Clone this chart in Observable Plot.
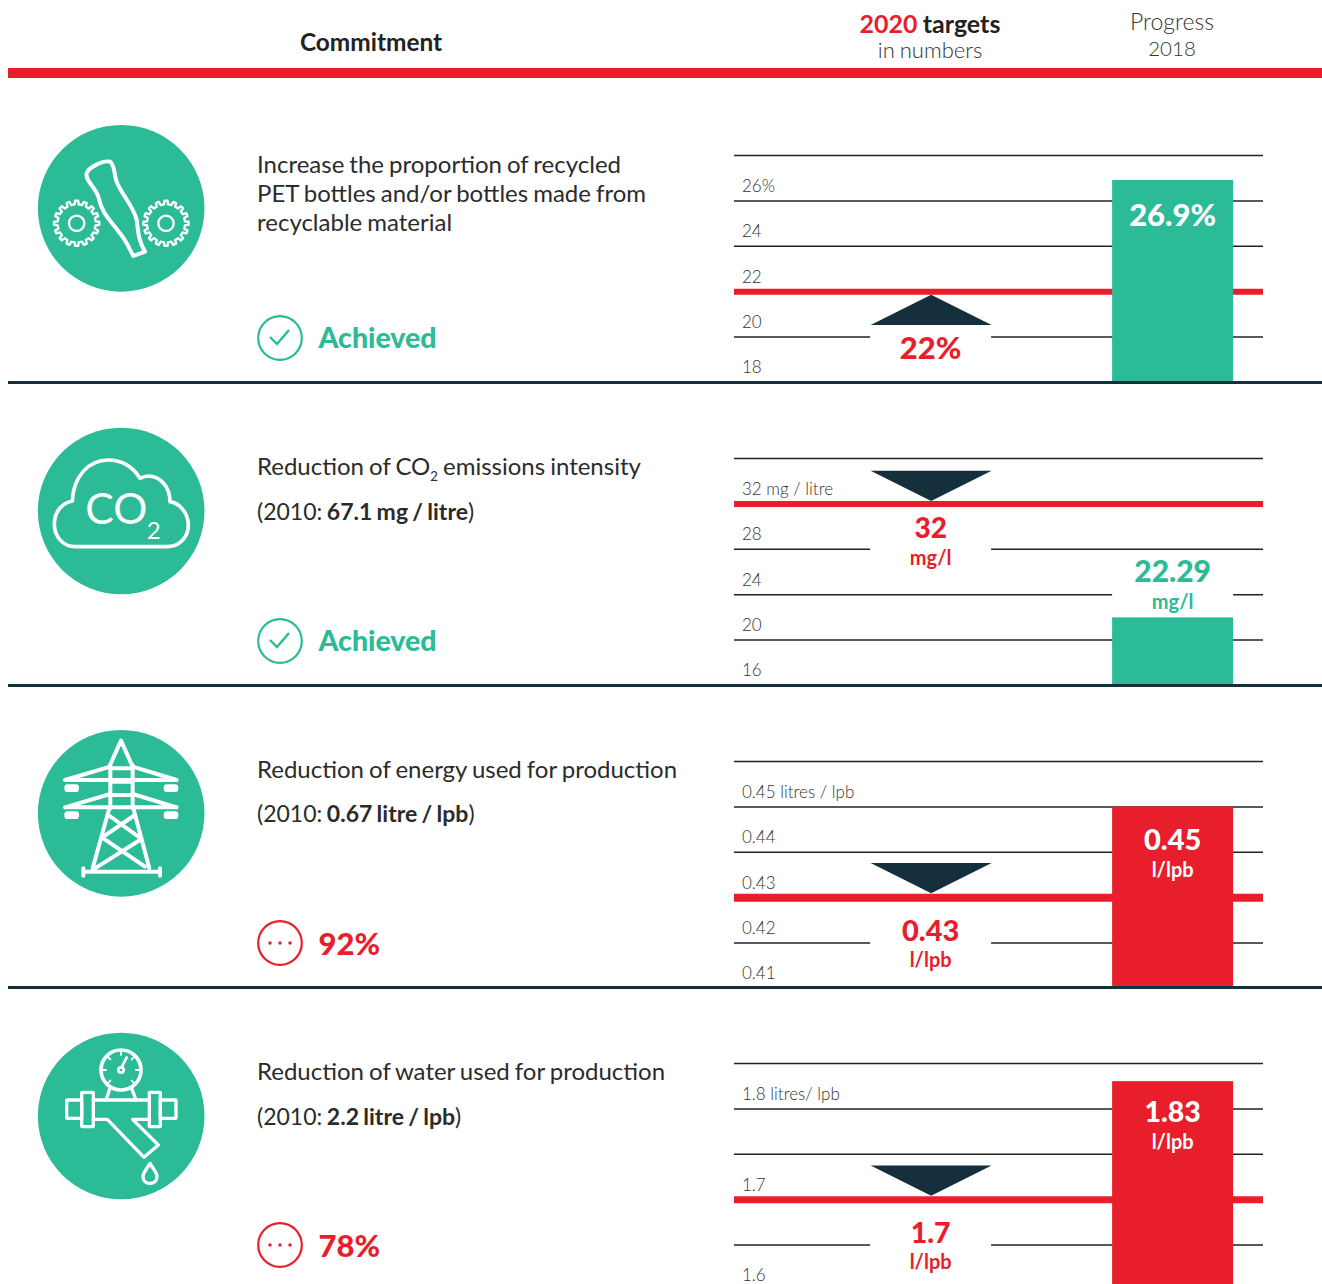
<!DOCTYPE html>
<html><head><meta charset="utf-8">
<script src="https://cdn.jsdelivr.net/npm/d3@7"></script>
<script src="https://cdn.jsdelivr.net/npm/@observablehq/plot@0.6"></script>
<style>
html,body{margin:0;padding:0;background:#fff;overflow:hidden}
#page{position:relative;width:1322px;height:1284px;overflow:hidden;font-family:Lato,sans-serif;color:#2b2b2b}
.t{position:absolute;white-space:nowrap;transform:translateY(-50%);line-height:1}
.c{transform:translate(-50%,-50%);text-align:center}
.abs{position:absolute}
sub{font-size:.55em;line-height:0}
</style></head><body><div id="page"></div>
<script>
// ---------- data ----------
const gridValues = [
  [28, 26, 24, 22, 20, 18],
  [36, 32, 28, 24, 20, 16],
  [0.46, 0.45, 0.44, 0.43, 0.42, 0.41],
  [1.85, 1.8, 1.75, 1.7, 1.65, 1.6]
];
const gridLabels = [
  ["", "26%", "24", "22", "20", "18"],
  ["", "32 mg / litre", "28", "24", "20", "16"],
  ["", "0.45 litres / lpb", "0.44", "0.43", "0.42", "0.41"],
  ["", "1.8 litres/ lpb", "", "1.7", "", "1.6"]
];
const targetValues = [22, 32, 0.43, 1.7];
const progressValues = [26.9, 21.96, 0.45, 1.83];
const targetText = ["22%", "32", "0.43", "1.7"];
const targetUnit = ["", "mg/l", "l/lpb", "l/lpb"];
const progressText = ["26.9%", "22.29", "0.45", "1.83"];
const progressUnit = ["", "mg/l", "l/lpb", "l/lpb"];
const targetGapTicks = [20, 28, 0.42, 1.65];
const progressGapTicks = [null, 24, null, null];
const arrowDirection = ["up", "down", "down", "down"];
const statusText = ["Achieved", "Achieved", "92%", "78%"];
const commitments = [
  ["Increase the proportion of recycled", "PET bottles and/or bottles made from", "recyclable material"],
  ["Reduction of CO<sub>2</sub> emissions intensity", "(2010: <b>67.1 mg / litre</b>)"],
  ["Reduction of energy used for production", "(2010: <b>0.67 litre / lpb</b>)"],
  ["Reduction of water used for production", "(2010: <b>2.2 litre / lpb</b>)"]
];
const columns = ["2020 target", "Progress 2018"];

// ---------- style ----------
const RED = "#e81e2c", GREEN = "#2bbb96", DARK = "#152f3c";
const page = document.getElementById("page");
const panelTop = [155, 458, 761, 1063];
const iconTop = [110, 415, 720, 1020];
const iconCy = [295, 288, 280, 288];
const statusY = [337, 640, 943, 1245];
const sepY = [382, 685, 987];
const textY = [[164, 193, 222], [466, 511], [769, 813], [1071, 1116]];
const progressDy = [[36, 0], [-45, -15.5], [34, 64], [31, 61]];
const targetDy = [[57, 0], [25, 54.5], [34, 63], [34, 63]];
const targetSize = [31, 28, 29, 28.5];
const progressSize = [31, 30, 29, 28.5];
const redWidth = [6, 6, 8, 7];
const arrowDy = [0, 0, -1.5, -1];

function text(html, x, y, css, center) {
  const d = document.createElement("div");
  d.className = "t" + (center ? " c" : "");
  d.style.left = x + "px"; d.style.top = y + "px";
  d.style.cssText += css;
  d.innerHTML = html;
  page.appendChild(d);
  return d;
}
function box(x, y, w, h, color) {
  const d = document.createElement("div");
  d.className = "abs";
  d.style.cssText = `left:${x}px;top:${y}px;width:${w}px;height:${h}px;background:${color}`;
  page.appendChild(d);
}

// header
text("Commitment", 371, 41.5, "font-size:24.4px;font-weight:700;color:#222", true);
text(`<span style="color:${RED}">2020</span> targets`, 930, 23, "font-size:25px;font-weight:700;color:#222;word-spacing:-1px", true);
text("in numbers", 930, 50, "font-size:22px;font-weight:300;color:#333;word-spacing:-1px", true);
text("Progress", 1172, 21, "font-size:23px;font-weight:300;color:#333", true);
text("2018", 1172, 48, "font-size:20.5px;font-weight:300;color:#333", true);
box(8, 68, 1314, 10, RED);

// ---------- wide triangle symbols ----------
const arrowUp = {draw(c, s) { const r = Math.sqrt(s / Math.PI); c.moveTo(0, 3); c.lineTo(r, 3 + r / 2); c.lineTo(-r, 3 + r / 2); c.closePath(); }};
const arrowDown = {draw(c, s) { const r = Math.sqrt(s / Math.PI); c.moveTo(0, -3); c.lineTo(r, -3 - r / 2); c.lineTo(-r, -3 - r / 2); c.closePath(); }};

// ---------- charts ----------
gridValues.forEach((ticks, i) => {
  const step = Math.abs(ticks[0] - ticks[1]);
  const low = ticks[ticks.length - 1], high = ticks[0];
  const label = new Map(ticks.map((t, k) => [t, gridLabels[i][k]]));
  const tx = columns[0], px = columns[1];
  const gaps = [{x: tx, t: targetGapTicks[i]}, {x: px, t: progressGapTicks[i]}].filter(d => d.t != null);
  const barColor = i < 2 ? GREEN : RED;
  const pColor = i === 1 ? GREEN : "#fff";
  const marks = [
    Plot.ruleY(ticks.slice(0, -1), {stroke: "#222", strokeWidth: 1.5}),
    Plot.barY(gaps, {x: "x", y1: d => d.t - step / 6, y2: d => d.t + step / 6, fill: "#fff"}),
    Plot.ruleY([targetValues[i]], {stroke: RED, strokeWidth: redWidth[i]}),
    Plot.barY([progressValues[i]], {x: () => px, y1: () => low, y2: d => d, fill: barColor}),
    Plot.dot([targetValues[i]], {x: () => tx, y: d => d, r: 60.5, dy: arrowDy[i], fill: DARK, stroke: "none",
      symbol: arrowDirection[i] === "up" ? arrowUp : arrowDown}),
    Plot.axisY(ticks, {anchor: "left", tickSize: 0, tickPadding: 0, textAnchor: "start", dx: 7.5, dy: -14.5,
      tickFormat: t => label.get(t), fontSize: 17, fontWeight: 300, fill: "#333", style: "word-spacing:-1.5px", label: null}),
    Plot.text([targetText[i]], {x: () => tx, y: () => targetValues[i], text: d => d, dy: targetDy[i][0], dx: -0.5,
      fill: RED, fontSize: targetSize[i], fontWeight: 900}),
    Plot.text([targetUnit[i]], {x: () => tx, y: () => targetValues[i], text: d => d, dy: targetDy[i][1], dx: -0.5,
      fill: RED, fontSize: 20, fontWeight: 700}),
    Plot.text([progressText[i]], {x: () => px, y: () => progressValues[i], text: d => d, dy: progressDy[i][0], dx: -0.5,
      fill: pColor, fontSize: progressSize[i], fontWeight: 900}),
    Plot.text([progressUnit[i]], {x: () => px, y: () => progressValues[i], text: d => d, dy: progressDy[i][1], dx: -0.5,
      fill: pColor, fontSize: 20, fontWeight: 700})
  ];
  const chart = Plot.plot({
    width: 529, height: 227,
    marginTop: 0, marginBottom: 0, marginLeft: 0, marginRight: 0,
    style: {overflow: "visible", background: "transparent", fontFamily: "Lato, sans-serif"},
    x: {type: "band", domain: columns, paddingInner: 0.5, paddingOuter: 0.343, align: 0.82, round: false, axis: null},
    y: {domain: [low, high], axis: null},
    marks
  });
  chart.style.position = "absolute";
  chart.style.left = "734px";
  chart.style.top = panelTop[i] + "px";
  chart.style.maxWidth = "none";
  page.appendChild(chart);
});

// separators
sepY.forEach(y => box(8, y - 1, 1314, 3, DARK));

// ---------- commitment texts ----------
commitments.forEach((lines, i) => lines.forEach((l, k) => {
  const sub2010 = l.startsWith("(2010");
  text(l, 257, textY[i][k], `font-size:${sub2010 ? 23 : 24}px;font-weight:400;color:#2b2b2b;word-spacing:${sub2010 ? -1.3 : -1.1}px`);
}));

// status
statusText.forEach((s, i) => {
  const col = i < 2 ? GREEN : RED;
  const y = statusY[i];
  const circleY = [338, 641, 943, 1245][i];
  const inner = i < 2
    ? `<path d="M14,23 L21,30 L33,16" fill="none" stroke="${col}" stroke-width="2.4"/>`
    : `<circle cx="14" cy="24" r="1.7" fill="${col}"/><circle cx="24" cy="24" r="1.7" fill="${col}"/><circle cx="34" cy="24" r="1.7" fill="${col}"/>`;
  const d = document.createElement("div");
  d.className = "abs";
  d.style.cssText = `left:256px;top:${circleY - 24}px;width:48px;height:48px`;
  d.innerHTML = `<svg width="48" height="48" viewBox="0 0 48 48" style="display:block"><circle cx="24" cy="24" r="21.8" fill="none" stroke="${col}" stroke-width="2.2"/>${inner}</svg>`;
  page.appendChild(d);
  text(s, 318.5, y, `font-size:${i < 2 ? 28.5 : 31}px;font-weight:900;color:${col}`);
});

// ---------- icons (viewBox 3x page pixels around each icon) ----------
function gear(cx, cy) {
  const n = 16, R = 68, r = 57; let p = "";
  for (let k = 0; k < n; k++) {
    const a = k / n * 2 * Math.PI, w = Math.PI / n;
    const pts = [[r, a - w], [r, a - w * .55], [R, a - w * .35], [R, a + w * .35], [r, a + w * .55]];
    pts.forEach(([q, b], j) => { p += (k === 0 && j === 0 ? "M" : "L") + (cx + q * Math.cos(b)).toFixed(1) + "," + (cy + q * Math.sin(b)).toFixed(1); });
  }
  return `<path d="${p}Z" stroke-width="7"/><circle cx="${cx}" cy="${cy}" r="23" stroke-width="7"/>`;
}
const rrect = (x, y, w, h, r = 4, sw = 12) => `<rect x="${x}" y="${y}" width="${w}" height="${h}" rx="${r}" stroke-width="${sw}"/>`;
const ln = (d, sw = 12) => `<path d="${d}" stroke-width="${sw}"/>`;
const icons = [
  gear(170, 340) + gear(438, 340) +
  ln("M200,190 C205,172 250,150 270,155 C285,165 283,200 290,215 C302,250 342,290 350,330 C355,360 352,385 375,425 L340,438 C325,410 320,395 300,370 C270,330 245,310 235,260 C225,230 195,212 200,190 Z", 12),

  ln("M165,395 H440 C480,395 505,365 505,330 C505,295 480,265 450,260 C450,215 420,183 385,183 C375,183 368,186 360,190 C340,155 305,135 265,135 C205,135 160,185 157,258 C125,265 103,290 103,328 C103,365 130,395 165,395 Z", 11) +
  `<text x="196" y="328" fill="#fff" stroke="none" font-family="Lato" font-weight="400" font-size="128">CO</text><text x="380" y="372" fill="#fff" stroke="none" font-family="Lato" font-weight="400" font-size="72">2</text>`,

  ln("M268,140 L303,62 L338,140 M271,135 V265 M338,135 V265 M271,145 H338 M271,185 H338 M271,225 H338") +
  ln("M135,180 H470 M135,180 L271,140 M338,140 L470,180 M135,262 H470 M135,262 L271,222 M338,222 L470,262") +
  rrect(139, 199, 32, 11) + rrect(437, 199, 32, 11) + rrect(139, 280, 32, 11) + rrect(437, 280, 32, 11) +
  ln("M268,265 L218,445 M340,265 L388,445 M190,455 H420 M190,445 V467 M420,445 V467 M265,285 L355,350 M345,285 L250,350 M250,355 L375,440 M360,360 L225,445"),

  `<circle cx="303" cy="150" r="60" stroke-width="11"/><circle cx="303" cy="150" r="8" stroke-width="8"/>` +
  ln("M306,140 L320,112", 8) + ln("M303,95 V105 M250,150 H258 M348,150 H356 M265,112 L271,118 M341,112 L335,118 M265,188 L271,182 M341,188 L335,182", 6) +
  ln("M270,205 L258,240 M335,205 L348,240", 10) +
  rrect(140, 240, 45, 55, 2, 10) + rrect(185, 217, 35, 103, 2, 10) + rrect(388, 217, 33, 103, 2, 10) + rrect(421, 240, 47, 55, 2, 10) +
  ln("M220,240 H388 M220,298 H262 L372,412 L415,375 L338,298 H388", 10) +
  ln("M390,430 C378,450 369,458 369,470 C369,482 378,490 390,490 C402,490 411,482 411,470 C411,458 402,450 390,430 Z", 10)
];
icons.forEach((body, i) => {
  const d = document.createElement("div");
  d.className = "abs";
  d.style.cssText = `left:20px;top:${iconTop[i]}px;width:200px;height:200px`;
  d.innerHTML = `<svg width="200" height="200" viewBox="0 0 600 600" style="display:block;overflow:visible"><circle cx="303.5" cy="${iconCy[i]}" r="250" fill="${GREEN}"/><g fill="none" stroke="#fff" stroke-linejoin="round" stroke-linecap="round">${body}</g></svg>`;
  page.appendChild(d);
});
</script></body></html>
